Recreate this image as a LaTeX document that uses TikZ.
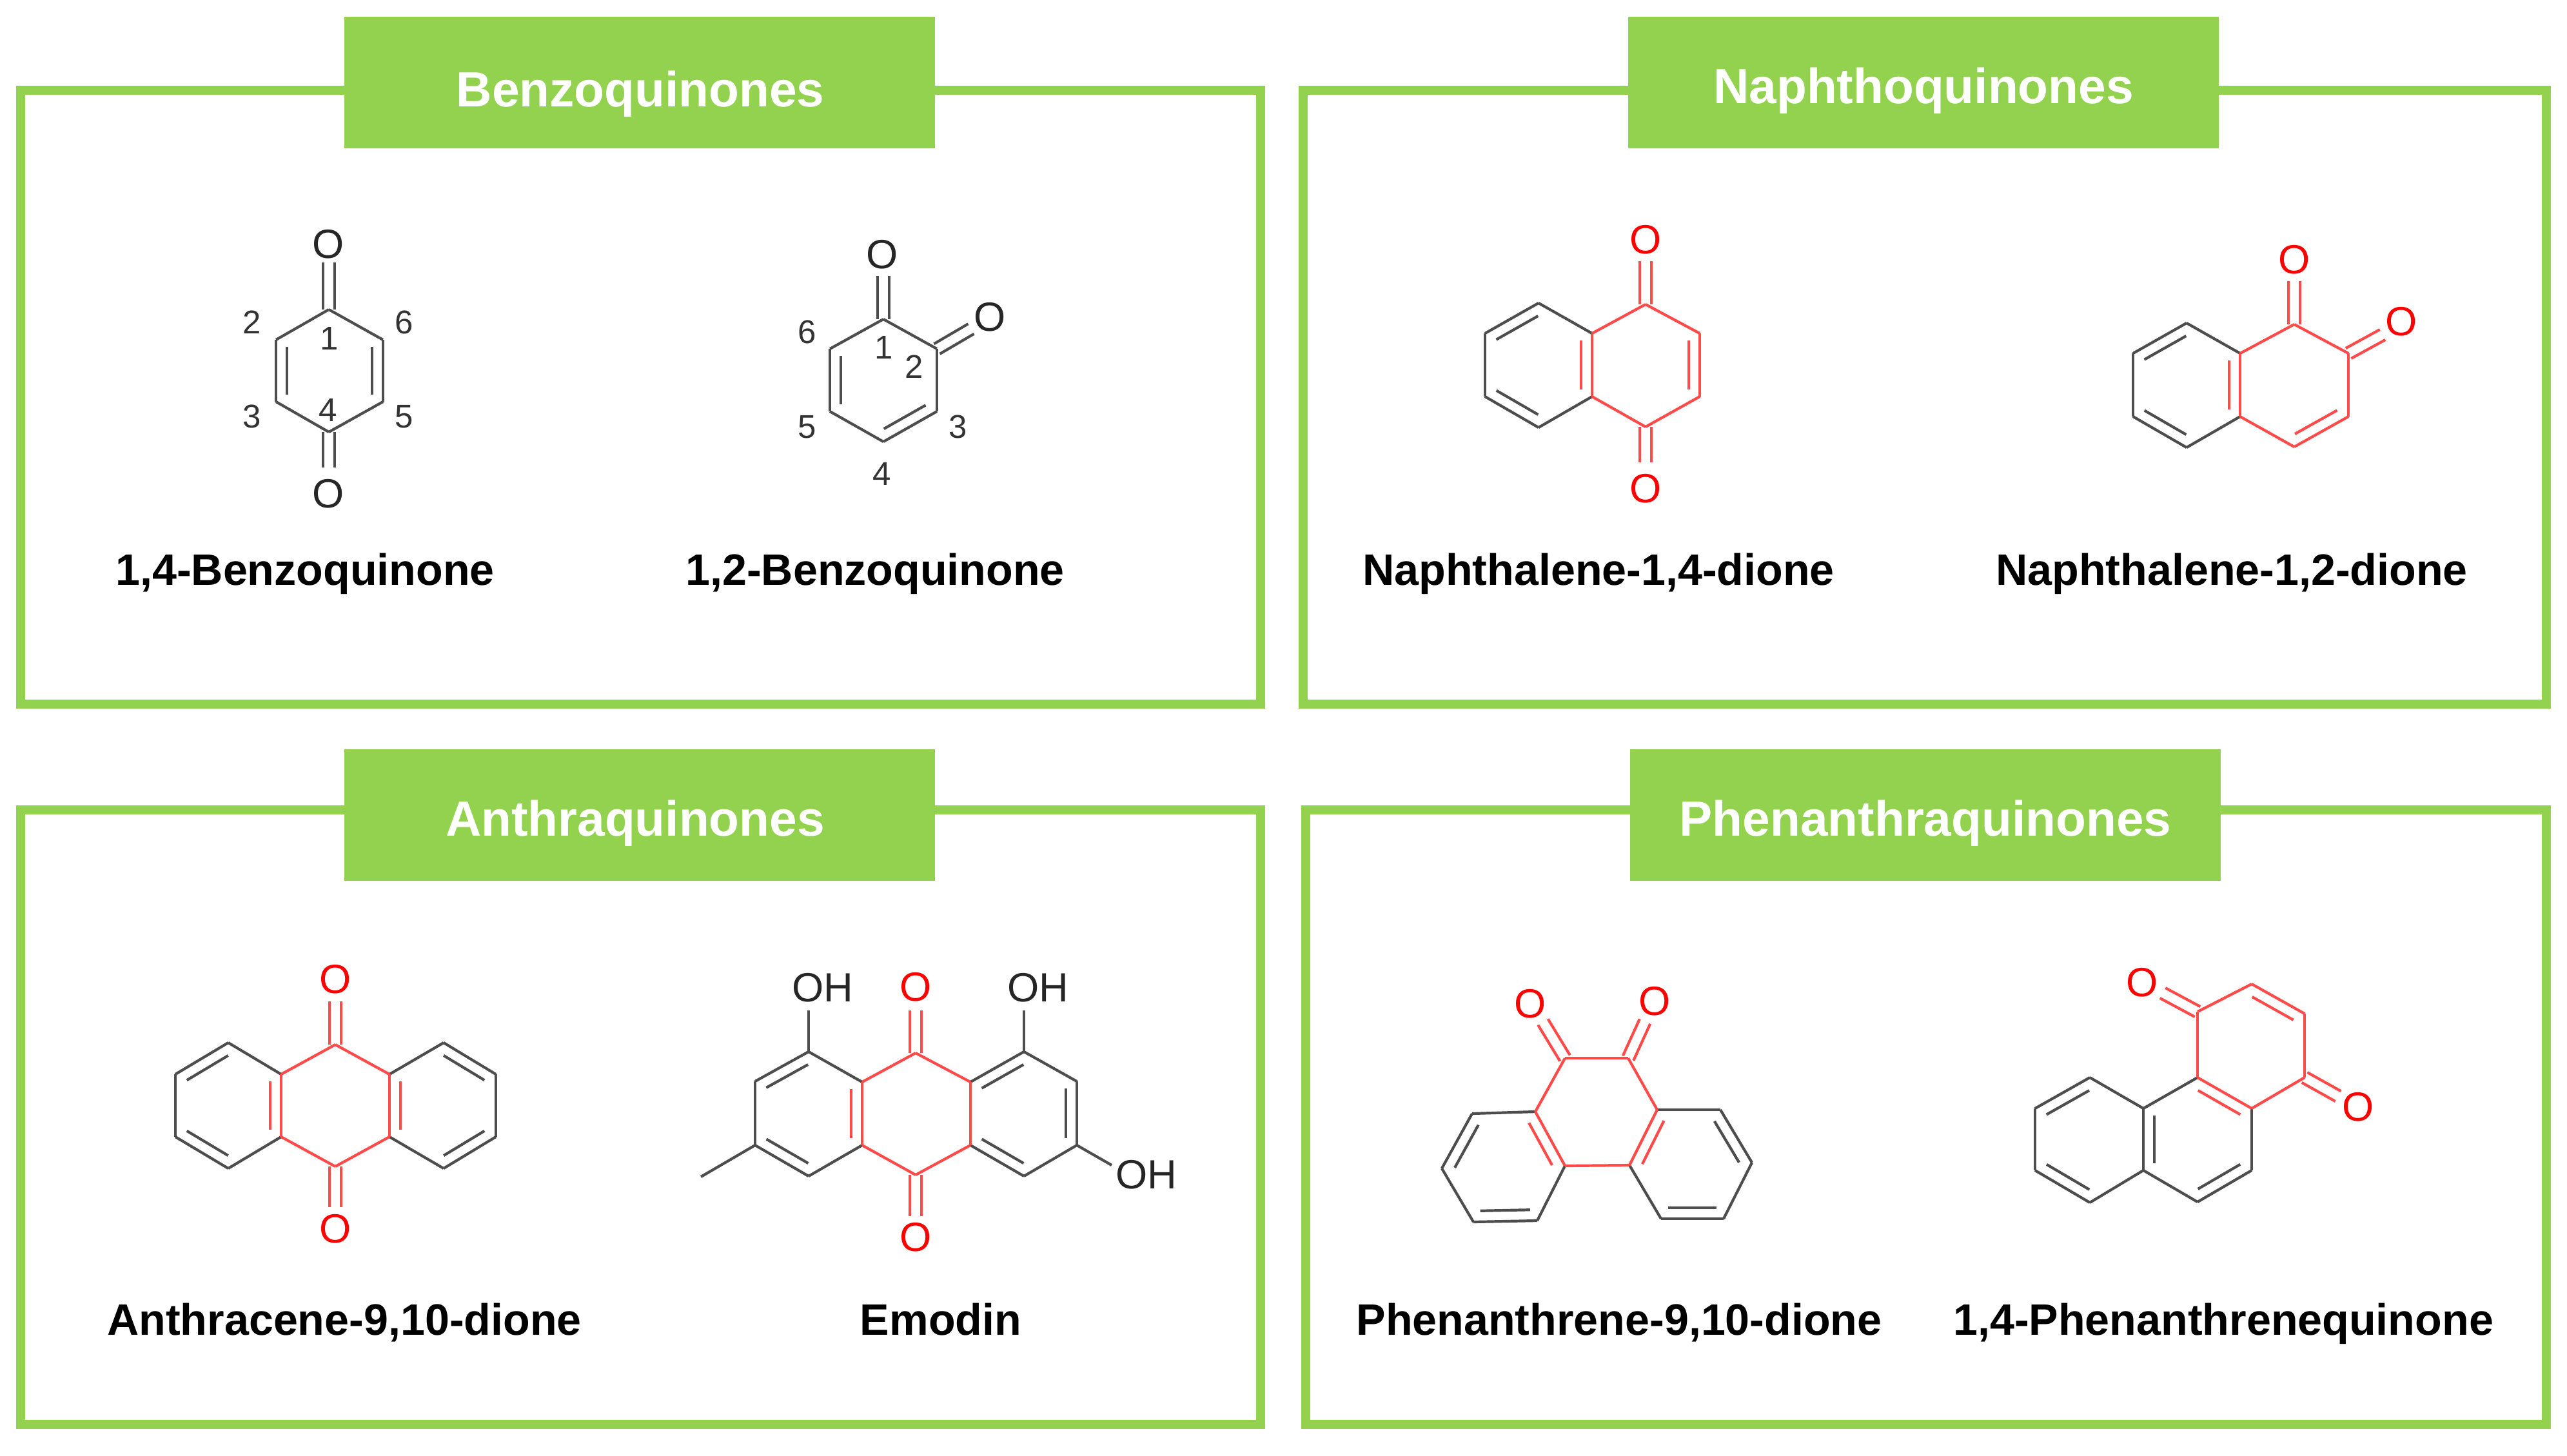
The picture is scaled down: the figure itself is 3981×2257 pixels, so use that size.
\documentclass[tikz,border=0pt]{standalone}
\usepackage{fontspec}
\setmainfont{Liberation Sans}
\usetikzlibrary{calc}
\definecolor{panelgreen}{HTML}{92D24F}
\definecolor{bondgray}{HTML}{4D4D4D}
\definecolor{bondred}{HTML}{FF4A4A}
\tikzset{
  panel/.style={draw=panelgreen,line width=0.14cm},
  headbox/.style={fill=panelgreen,inner sep=0pt,minimum width=9.15cm,minimum height=2.03cm},
  headtitle/.style={anchor=base,text=white,font=\fontsize{21.8}{24}\selectfont\bfseries},
  compound/.style={anchor=base,text=black,font=\fontsize{19.4}{22}\selectfont\bfseries},
  oxy/.style={inner sep=0pt,text=red,font=\fontsize{18}{20}\selectfont},
  darkatom/.style={inner sep=0pt,text=black!85,font=\fontsize{18}{20}\selectfont},
  locant/.style={inner sep=0pt,text=black!80,font=\fontsize{14.5}{16}\selectfont},
  greybonds/.style={every edge/.style={draw=bondgray,line width=0.042cm,line join=round}},
  redbonds/.style={every edge/.style={draw=bondred,line width=0.042cm,line join=round}},
  dbl/.style={to path={($(\tikztostart)!0.11!(\tikztotarget)!0.17cm!90:(\tikztotarget)$) -- ($(\tikztotarget)!0.11!(\tikztostart)!0.17cm!-90:(\tikztostart)$)}},
  keto/.style={to path={($(\tikztostart)!0.09cm!90:(\tikztotarget)$) -- ($(\tikztotarget)!0.09cm!-90:(\tikztostart)$) ($(\tikztostart)!0.09cm!-90:(\tikztotarget)$) -- ($(\tikztotarget)!0.09cm!90:(\tikztostart)$)}}
}
\begin{document}
\begin{tikzpicture}[x=0.01cm,y=-0.01cm]
  \useasboundingbox (0,0) rectangle (3981,2257);

  % frames
  \draw[panel] (32,140) rectangle (1955,1092);
  \draw[panel] (2021,140) rectangle (3949,1092);
  \draw[panel] (32,1256) rectangle (1955,2209);
  \draw[panel] (2025,1256) rectangle (3949,2209);

  \node[headbox] (benzohead)  at (992,128)  {};
  \node[headbox] (naphthohead) at (2983,128) {};
  \node[headbox] (anthrahead) at (992,1264) {};
  \node[headbox] (phenhead)   at (2986,1264) {};

  \node[headtitle] (benzotitle)  at (993,165)  {Benzoquinones};
  \node[headtitle] (naphthotitle) at (2983,160) {Naphthoquinones};
  \node[headtitle] (anthratitle) at (985,1296) {Anthraquinones};
  \node[headtitle] (phentitle)   at (2986,1296) {Phenanthraquinones};

  \begin{scope}[every node/.style={compound}]
    \node (name1) at (473,907)  {1,4-Benzoquinone};
    \node (name2) at (1357,907) {1,2-Benzoquinone};
    \node (name3) at (2479,907) {Naphthalene-1,4-dione};
    \node (name4) at (3461,907) {Naphthalene-1,2-dione};
    \node (name5) at (534,2070) {Anthracene-9,10-dione};
    \node (name6) at (1459,2070) {Emodin};
    \node (name7) at (2511,2070) {Phenanthrene-9,10-dione};
    \node (name8) at (3448,2070) {1,4-Phenanthrenequinone};
  \end{scope}

  % 1,4-benzoquinone
  \coordinate (a1) at (510,480);
  \coordinate (a2) at (428,527);
  \coordinate (a3) at (428,623);
  \coordinate (a4) at (510,670);
  \coordinate (a5) at (594,623);
  \coordinate (a6) at (594,527);
  \coordinate (ae1) at (510,407);
  \coordinate (ae4) at (510,725);
  \node[darkatom] (ao1) at (509,379) {O};
  \node[darkatom] (ao4) at (509,766) {O};
  \begin{scope}[every node/.style={locant}]
    \node (al1) at (511,525) {1};
    \node (al2) at (391,500) {2};
    \node (al3) at (391,646) {3};
    \node (al4) at (509,636) {4};
    \node (al5) at (627,646) {5};
    \node (al6) at (627,500) {6};
  \end{scope}
  \begin{scope}[greybonds]
    \path (a1) edge (a2);
    \path (a2) edge (a3);
    \path (a3) edge (a4);
    \path (a4) edge (a5);
    \path (a5) edge (a6);
    \path (a6) edge (a1);
    \path (a2) edge[dbl] (a3);
    \path (a5) edge[dbl] (a6);
    \path (a1) edge[keto] (ae1);
    \path (a4) edge[keto] (ae4);
  \end{scope}

  % 1,2-benzoquinone
  \coordinate (b1) at (1370,495);
  \coordinate (b2) at (1453,541);
  \coordinate (b3) at (1453,638);
  \coordinate (b4) at (1370,685);
  \coordinate (b5) at (1287,638);
  \coordinate (b6) at (1287,541);
  \coordinate (be1) at (1370,428);
  \coordinate (be2) at (1506,510);
  \node[darkatom] (bo1) at (1368,395) {O};
  \node[darkatom] (bo2) at (1535,492) {O};
  \begin{scope}[every node/.style={locant}]
    \node (bl1) at (1371,539) {1};
    \node (bl2) at (1418,569) {2};
    \node (bl3) at (1486,662) {3};
    \node (bl4) at (1368,735) {4};
    \node (bl5) at (1252,662) {5};
    \node (bl6) at (1252,515) {6};
  \end{scope}
  \begin{scope}[greybonds]
    \path (b1) edge (b2);
    \path (b2) edge (b3);
    \path (b3) edge (b4);
    \path (b4) edge (b5);
    \path (b5) edge (b6);
    \path (b6) edge (b1);
    \path (b6) edge[dbl] (b5);
    \path (b4) edge[dbl] (b3);
    \path (b1) edge[keto] (be1);
    \path (b2) edge[keto] (be2);
  \end{scope}

  % naphthalene-1,4-dione
  \coordinate (c1) at (2386,470);
  \coordinate (c2) at (2303,517);
  \coordinate (c3) at (2303,615);
  \coordinate (c4) at (2386,663);
  \coordinate (c5) at (2469,615);
  \coordinate (c6) at (2469,517);
  \coordinate (c7) at (2552,472);
  \coordinate (c8) at (2636,517);
  \coordinate (c9) at (2636,615);
  \coordinate (c10) at (2552,662);
  \coordinate (ce7) at (2552,405);
  \coordinate (ce10) at (2552,717);
  \node[oxy] (co7) at (2552,372) {O};
  \node[oxy] (co10) at (2552,758) {O};
  \begin{scope}[greybonds]
    \path (c1) edge (c2);
    \path (c2) edge (c3);
    \path (c3) edge (c4);
    \path (c4) edge (c5);
    \path (c6) edge (c1);
    \path (c1) edge[dbl] (c2);
    \path (c3) edge[dbl] (c4);
  \end{scope}
  \begin{scope}[redbonds]
    \path (c6) edge (c5);
    \path (c5) edge (c10);
    \path (c10) edge (c9);
    \path (c9) edge (c8);
    \path (c8) edge (c7);
    \path (c7) edge (c6);
    \path (c5) edge[dbl] (c6);
    \path (c9) edge[dbl] (c8);
    \path (c7) edge[keto] (ce7);
    \path (c10) edge[keto] (ce10);
  \end{scope}

  % naphthalene-1,2-dione
  \coordinate (d1) at (3391,501);
  \coordinate (d2) at (3308,548);
  \coordinate (d3) at (3308,646);
  \coordinate (d4) at (3391,694);
  \coordinate (d5) at (3474,646);
  \coordinate (d6) at (3474,548);
  \coordinate (d7) at (3558,503);
  \coordinate (d8) at (3642,548);
  \coordinate (d9) at (3642,646);
  \coordinate (d10) at (3558,693);
  \coordinate (de7) at (3558,436);
  \coordinate (de8) at (3695,519);
  \node[oxy] (do7) at (3558,403) {O};
  \node[oxy] (do8) at (3724,499) {O};
  \begin{scope}[greybonds]
    \path (d1) edge (d2);
    \path (d2) edge (d3);
    \path (d3) edge (d4);
    \path (d4) edge (d5);
    \path (d6) edge (d1);
    \path (d1) edge[dbl] (d2);
    \path (d3) edge[dbl] (d4);
  \end{scope}
  \begin{scope}[redbonds]
    \path (d6) edge (d5);
    \path (d5) edge (d10);
    \path (d10) edge (d9);
    \path (d9) edge (d8);
    \path (d8) edge (d7);
    \path (d7) edge (d6);
    \path (d5) edge[dbl] (d6);
    \path (d10) edge[dbl] (d9);
    \path (d7) edge[keto] (de7);
    \path (d8) edge[keto] (de8);
  \end{scope}

  % anthracene-9,10-dione
  \coordinate (e1) at (354,1617);
  \coordinate (e2) at (272,1666);
  \coordinate (e3) at (272,1763);
  \coordinate (e4) at (354,1812);
  \coordinate (e5) at (436,1763);
  \coordinate (e6) at (436,1666);
  \coordinate (e7) at (520,1620);
  \coordinate (e8) at (604,1666);
  \coordinate (e9) at (604,1763);
  \coordinate (e10) at (520,1809);
  \coordinate (e11) at (688,1617);
  \coordinate (e12) at (769,1666);
  \coordinate (e13) at (769,1763);
  \coordinate (e14) at (688,1812);
  \coordinate (ee7) at (520,1553);
  \coordinate (ee10) at (520,1872);
  \node[oxy] (eo7) at (520,1519) {O};
  \node[oxy] (eo10) at (520,1906) {O};
  \begin{scope}[greybonds]
    \path (e1) edge (e2);
    \path (e2) edge (e3);
    \path (e3) edge (e4);
    \path (e4) edge (e5);
    \path (e6) edge (e1);
    \path (e8) edge (e11);
    \path (e11) edge (e12);
    \path (e12) edge (e13);
    \path (e13) edge (e14);
    \path (e14) edge (e9);
    \path (e1) edge[dbl] (e2);
    \path (e3) edge[dbl] (e4);
    \path (e12) edge[dbl] (e11);
    \path (e14) edge[dbl] (e13);
  \end{scope}
  \begin{scope}[redbonds]
    \path (e6) edge (e5);
    \path (e5) edge (e10);
    \path (e10) edge (e9);
    \path (e9) edge (e8);
    \path (e8) edge (e7);
    \path (e7) edge (e6);
    \path (e5) edge[dbl] (e6);
    \path (e8) edge[dbl] (e9);
    \path (e7) edge[keto] (ee7);
    \path (e10) edge[keto] (ee10);
  \end{scope}

  % emodin
  \coordinate (f1) at (1254,1631);
  \coordinate (f2) at (1171,1677);
  \coordinate (f3) at (1171,1776);
  \coordinate (f4) at (1254,1824);
  \coordinate (f5) at (1337,1776);
  \coordinate (f6) at (1337,1678);
  \coordinate (f7) at (1420,1633);
  \coordinate (f8) at (1505,1678);
  \coordinate (f9) at (1505,1776);
  \coordinate (f10) at (1420,1822);
  \coordinate (f11) at (1588,1631);
  \coordinate (f12) at (1670,1677);
  \coordinate (f13) at (1670,1776);
  \coordinate (f14) at (1588,1824);
  \coordinate (fm) at (1087,1825);
  \coordinate (fh1) at (1254,1567);
  \coordinate (fh11) at (1588,1567);
  \coordinate (fh13) at (1724,1807);
  \coordinate (fe7) at (1420,1567);
  \coordinate (fe10) at (1420,1886);
  \node[oxy] (fo7) at (1420,1531) {O};
  \node[oxy] (fo10) at (1420,1919) {O};
  \node[darkatom] (foh1) at (1276,1532) {OH};
  \node[darkatom] (foh11) at (1610,1532) {OH};
  \node[darkatom] (foh13) at (1778,1822) {OH};
  \begin{scope}[greybonds]
    \path (f1) edge (f2);
    \path (f2) edge (f3);
    \path (f3) edge (f4);
    \path (f4) edge (f5);
    \path (f6) edge (f1);
    \path (f8) edge (f11);
    \path (f11) edge (f12);
    \path (f12) edge (f13);
    \path (f13) edge (f14);
    \path (f14) edge (f9);
    \path (f3) edge (fm);
    \path (f1) edge (fh1);
    \path (f11) edge (fh11);
    \path (f13) edge (fh13);
    \path (f1) edge[dbl] (f2);
    \path (f3) edge[dbl] (f4);
    \path (f11) edge[dbl] (f8);
    \path (f9) edge[dbl] (f14);
    \path (f13) edge[dbl] (f12);
  \end{scope}
  \begin{scope}[redbonds]
    \path (f6) edge (f5);
    \path (f5) edge (f10);
    \path (f10) edge (f9);
    \path (f9) edge (f8);
    \path (f8) edge (f7);
    \path (f7) edge (f6);
    \path (f5) edge[dbl] (f6);
    \path (f7) edge[keto] (fe7);
    \path (f10) edge[keto] (fe10);
  \end{scope}

  % phenanthrene-9,10-dione
  \coordinate (g1) at (2427,1641);
  \coordinate (g2) at (2525,1641);
  \coordinate (g3) at (2570,1721);
  \coordinate (g4) at (2527,1807);
  \coordinate (g5) at (2427,1808);
  \coordinate (g6) at (2381,1724);
  \coordinate (g7) at (2283,1727);
  \coordinate (g8) at (2236,1812);
  \coordinate (g9) at (2285,1895);
  \coordinate (g10) at (2384,1893);
  \coordinate (g11) at (2668,1721);
  \coordinate (g12) at (2717,1803);
  \coordinate (g13) at (2673,1890);
  \coordinate (g14) at (2576,1890);
  \coordinate (ge1) at (2393,1585);
  \coordinate (ge2) at (2551,1584);
  \node[oxy] (go1) at (2373,1557) {O};
  \node[oxy] (go2) at (2566,1553) {O};
  \begin{scope}[greybonds]
    \path (g6) edge (g7);
    \path (g7) edge (g8);
    \path (g8) edge (g9);
    \path (g9) edge (g10);
    \path (g10) edge (g5);
    \path (g3) edge (g11);
    \path (g11) edge (g12);
    \path (g12) edge (g13);
    \path (g13) edge (g14);
    \path (g14) edge (g4);
    \path (g7) edge[dbl] (g8);
    \path (g9) edge[dbl] (g10);
    \path (g12) edge[dbl] (g11);
    \path (g14) edge[dbl] (g13);
  \end{scope}
  \begin{scope}[redbonds]
    \path (g1) edge (g2);
    \path (g2) edge (g3);
    \path (g3) edge (g4);
    \path (g4) edge (g5);
    \path (g5) edge (g6);
    \path (g6) edge (g1);
    \path (g5) edge[dbl] (g6);
    \path (g3) edge[dbl] (g4);
    \path (g1) edge[keto] (ge1);
    \path (g2) edge[keto] (ge2);
  \end{scope}

  % 1,4-phenanthrenequinone
  \coordinate (h1) at (3408,1569);
  \coordinate (h2) at (3492,1526);
  \coordinate (h3) at (3574,1572);
  \coordinate (h4) at (3574,1671);
  \coordinate (h5) at (3492,1719);
  \coordinate (h6) at (3408,1671);
  \coordinate (h7) at (3324,1719);
  \coordinate (h8) at (3324,1815);
  \coordinate (h9) at (3408,1864);
  \coordinate (h10) at (3492,1815);
  \coordinate (h11) at (3241,1671);
  \coordinate (h12) at (3156,1719);
  \coordinate (h13) at (3156,1815);
  \coordinate (h14) at (3241,1865);
  \coordinate (he1) at (3354,1540);
  \coordinate (he4) at (3626,1700);
  \node[oxy] (ho1) at (3322,1524) {O};
  \node[oxy] (ho4) at (3657,1717) {O};
  \begin{scope}[greybonds]
    \path (h6) edge (h7);
    \path (h7) edge (h8);
    \path (h8) edge (h9);
    \path (h9) edge (h10);
    \path (h10) edge (h5);
    \path (h7) edge (h11);
    \path (h11) edge (h12);
    \path (h12) edge (h13);
    \path (h13) edge (h14);
    \path (h14) edge (h8);
    \path (h11) edge[dbl] (h12);
    \path (h13) edge[dbl] (h14);
    \path (h7) edge[dbl] (h8);
    \path (h9) edge[dbl] (h10);
  \end{scope}
  \begin{scope}[redbonds]
    \path (h1) edge (h2);
    \path (h2) edge (h3);
    \path (h3) edge (h4);
    \path (h4) edge (h5);
    \path (h5) edge (h6);
    \path (h6) edge (h1);
    \path (h3) edge[dbl] (h2);
    \path (h5) edge[dbl] (h6);
    \path (h1) edge[keto] (he1);
    \path (h4) edge[keto] (he4);
  \end{scope}

\end{tikzpicture}
\end{document}
